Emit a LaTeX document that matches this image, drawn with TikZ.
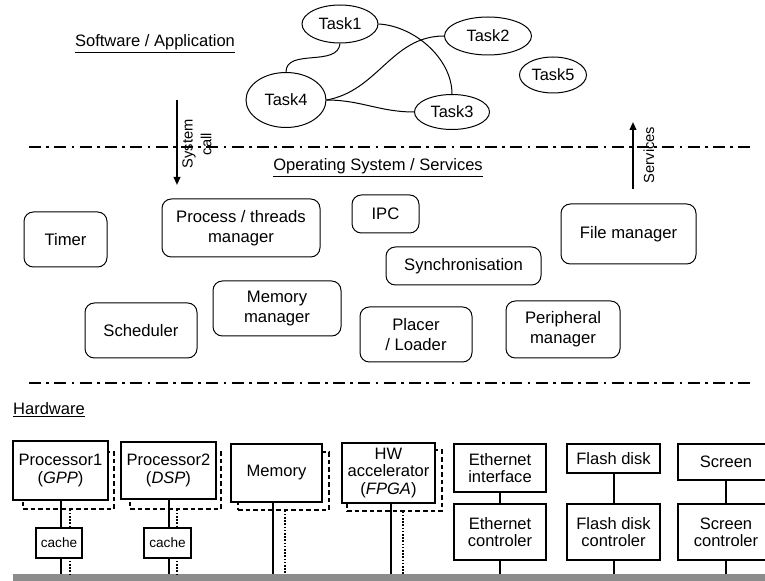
\documentclass[tikz,border=0pt]{standalone}
\usepackage{fontspec}
\setmainfont{Liberation Sans}
\usetikzlibrary{shapes.geometric,arrows.meta,calc}
\definecolor{busgray}{RGB}{140,140,140}
\begin{document}
\begin{tikzpicture}[x=0.75pt,y=-0.75pt,
  osbox/.style={draw, rounded corners=7pt, line width=0.75pt, align=center, inner sep=0pt, font=\fontsize{12.5}{15}\selectfont},
  task/.style={draw, ellipse, line width=0.75pt, inner sep=0pt, font=\fontsize{12.3}{14}\selectfont},
  hwbox/.style={draw, fill=white, line width=0.95pt, align=center, inner sep=0pt, font=\fontsize{12.4}{13}\selectfont},
  shadowbox/.style={draw, dash pattern=on 3.5pt off 2.2pt, line width=0.95pt, inner sep=0pt},
  cachebox/.style={draw, fill=white, line width=0.95pt, inner sep=0pt, font=\fontsize{10.2}{12}\selectfont},
  sepline/.style={line width=2.2pt, dash pattern=on 9pt off 4pt on 2pt off 4pt},
  link/.style={line width=0.75pt},
  wire/.style={line width=1.5pt},
  dotwire/.style={line width=1.5pt, dash pattern=on 1.2pt off 1.2pt},
  callarrow/.style={line width=1.3pt, -{Triangle[length=6pt,width=5pt]}},
  lbl/.style={font=\fontsize{12.4}{14}\selectfont, inner sep=0pt},
  sidelbl/.style={font=\fontsize{11}{14}\selectfont, rotate=90, align=center, inner sep=0pt}
]
\clip (0,0) rectangle (765,581);

% section labels
\node[lbl] (sw) at (155,44) {\underline{Software / Application}};
\node[lbl] (os) at (378,168) {\underline{Operating System / Services}};
\node[lbl] (hw) at (49,410) {\underline{Hardware}};

% separators
\coordinate (s1a) at (29,147); \coordinate (s1b) at (750,147);
\coordinate (s2a) at (29,383); \coordinate (s2b) at (750,383);
\draw[sepline] (s1a) -- (s1b);
\draw[sepline] (s2a) -- (s2b);

% system call / services arrows
\coordinate (sc1) at (177,100); \coordinate (sc2) at (177,185);
\draw[callarrow] (sc1) -- (sc2);
\node[sidelbl] (scl) at (197,144) {System\\call};
\coordinate (sv1) at (633,189); \coordinate (sv2) at (633,122);
\draw[callarrow] (sv1) -- (sv2);
\node[sidelbl] (svl) at (649,155) {Services};

% tasks
\node[task, minimum width=57pt, minimum height=28.5pt] (t1) at (340,24) {Task1};
\node[task, minimum width=65.25pt, minimum height=28.5pt] (t2) at (488,36) {Task2};
\node[task, minimum width=60pt, minimum height=41.25pt] (t4) at (286,100) {Task4};
\node[task, minimum width=56.25pt, minimum height=26.25pt] (t3) at (452,112) {Task3};
\node[task, minimum width=50.25pt, minimum height=27pt] (t5) at (553,75) {Task5};
\draw[link] (t1.south) to[out=-95,in=90] (t4.north);
\draw[link] (t1.east) to[out=-3,in=90,looseness=0.9] (t3.north);
\draw[link] (t2.west) to[out=180,in=10] (t4.east);
\draw[link] (t4.east) to[out=0,in=180] (t3.west);

% OS boxes
\node[osbox, minimum width=62.25pt, minimum height=41.25pt] (timer) at (65.5,239.5) {Timer};
\node[osbox, minimum width=118.5pt, minimum height=43.5pt] (proc) at (241,228) {Process / threads\\manager};
\node[osbox, minimum width=96pt, minimum height=41.25pt] (memman) at (277,308.5) {Memory\\manager};
\node[osbox, minimum width=84pt, minimum height=41.25pt] (sched) at (141,330.5) {Scheduler};
\node[osbox, minimum width=50.25pt, minimum height=28.5pt] (ipc) at (385.5,214) {IPC};
\node[osbox, minimum width=116.25pt, minimum height=28.5pt] (sync) at (463.5,266) {Synchronisation};
\node[osbox, minimum width=84pt, minimum height=41.25pt] (placer) at (416,334.5) {Placer\\/ Loader};
\node[osbox, minimum width=85.5pt, minimum height=42.75pt] (periph) at (563,329.5) {Peripheral\\manager};
\node[osbox, minimum width=101.25pt, minimum height=45pt] (file) at (628.5,234) {File manager};

% hardware: bus
\node[fill=busgray, inner sep=0pt, outer sep=0pt, minimum width=567.75pt, minimum height=7.5pt] (bus) at (391.5,579) {};

% shadows
\node[shadowbox, minimum width=68.25pt, minimum height=42.75pt] (s1) at (68.5,480.5) {};
\node[shadowbox, minimum width=68.25pt, minimum height=42.75pt] (s2) at (175.5,480.5) {};
\node[shadowbox, minimum width=68.25pt, minimum height=43.5pt] (s3) at (283.5,481) {};
\node[shadowbox, minimum width=71.25pt, minimum height=45.75pt] (s4) at (394.5,480.5) {};

% dotted wires
\coordinate (d1) at ($(s1.south)+(1.5,0)$);
\coordinate (d2) at ($(s2.south)+(1.5,0)$);
\coordinate (d3) at ($(s3.south)+(1.5,0)$);
\coordinate (d4) at ($(s4.south)+(8.5,0)$);
\draw[dotwire] (d1) -- (d1 |- bus.north);
\draw[dotwire] (d2) -- (d2 |- bus.north);
\draw[dotwire] (d3) -- (d3 |- bus.north);
\draw[dotwire] (d4) -- (d4 |- bus.north);

% main hardware boxes
\node[hwbox, minimum width=71.25pt, minimum height=44.25pt] (p1) at (60.5,470.5) {Processor1\\(\textit{GPP})};
\node[hwbox, minimum width=71.25pt, minimum height=42.75pt] (p2) at (168.5,470.5) {Processor2\\(\textit{DSP})};
\node[hwbox, minimum width=68.25pt, minimum height=43.5pt] (memhw) at (276.5,473) {Memory};
\node[hwbox, minimum width=69.75pt, minimum height=45pt] (hwa) at (388.5,473) {HW\\accelerator\\(\textit{FPGA})};
\node[cachebox, minimum width=34.5pt, minimum height=22.5pt] (c1) at (59,543) {cache};
\node[cachebox, minimum width=35.25pt, minimum height=22.5pt] (c2) at (167.5,543) {cache};

\node[hwbox, minimum width=69pt, minimum height=36pt] (ethi) at (500,468) {Ethernet\\interface};
\node[hwbox, minimum width=69pt, minimum height=42pt] (ethc) at (500,532) {Ethernet\\controler};
\node[hwbox, minimum width=69.75pt, minimum height=21.75pt] (flash) at (613.5,458.5) {Flash disk};
\node[hwbox, minimum width=69.75pt, minimum height=42pt] (flashc) at (613.5,532) {Flash disk\\controler};
\node[hwbox, minimum width=72pt, minimum height=27pt] (scr) at (726,462) {Screen};
\node[hwbox, minimum width=72pt, minimum height=42pt] (scrc) at (726,532) {Screen\\controler};

% solid wires
\draw[wire] (p1.south) -- (p1.south |- c1.north);
\draw[wire] (p1.south |- c1.south) -- (p1.south |- bus.north);
\draw[wire] (p2.south) -- (p2.south |- c2.north);
\draw[wire] (p2.south |- c2.south) -- (p2.south |- bus.north);
\coordinate (w3) at ($(memhw.south)+(-3.5,0)$);
\coordinate (w4) at ($(hwa.south)+(2.5,0)$);
\draw[wire] (w3) -- (w3 |- bus.north);
\draw[wire] (w4) -- (w4 |- bus.north);
\draw[wire] (ethi.south) -- (ethc.north);
\draw[wire] (ethc.south) -- (ethc.south |- bus.north);
\draw[wire] (flash.south) -- (flashc.north);
\draw[wire] (flashc.south) -- (flashc.south |- bus.north);
\draw[wire] (scr.south) -- (scrc.north);
\draw[wire] (scrc.south) -- (scrc.south |- bus.north);
\end{tikzpicture}
\end{document}
